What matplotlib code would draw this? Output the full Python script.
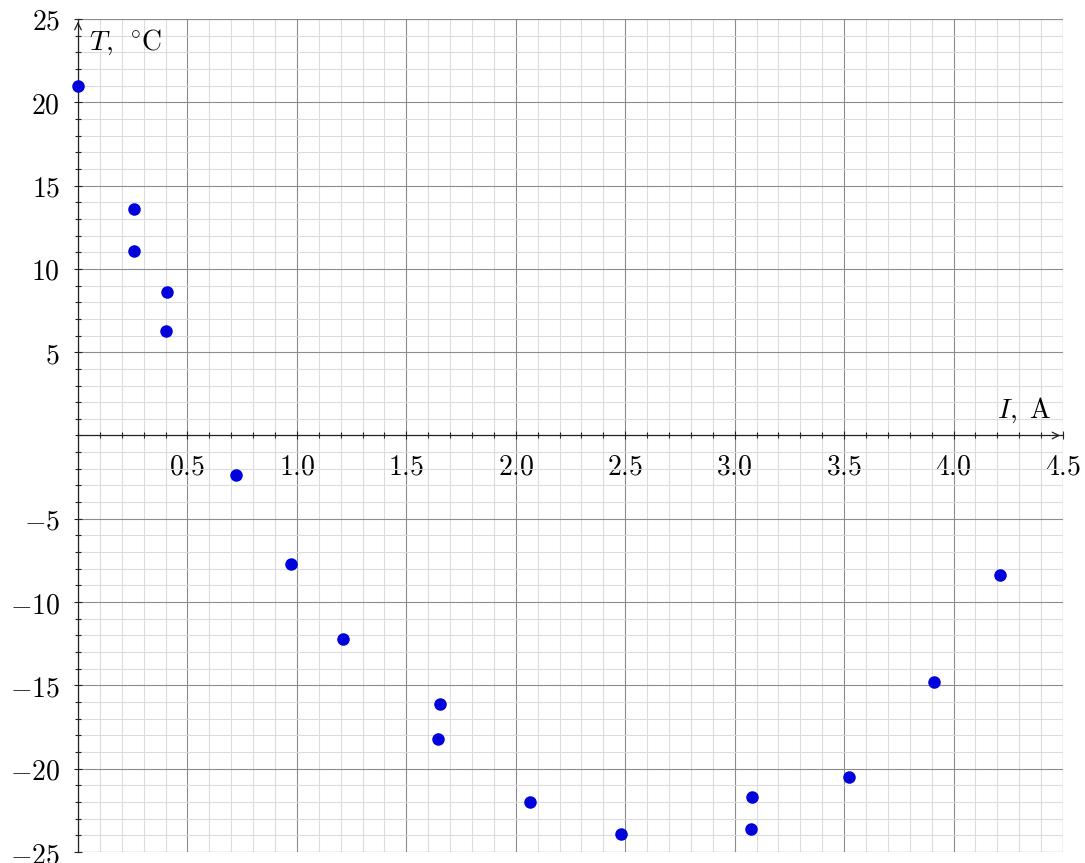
import numpy as np
import matplotlib.pyplot as plt
from matplotlib.ticker import MultipleLocator, FixedLocator

plt.rcParams['mathtext.fontset'] = 'cm'

# measured current I (A) and temperature T (deg C)
current = [0.00, 0.256, 0.256, 0.407, 0.402, 0.722, 0.973, 1.211, 1.654, 1.645,
           2.065, 2.481, 3.079, 3.074, 3.522, 3.910, 4.212]
temperature = [21.0, 13.6, 11.1, 8.6, 6.3, -2.4, -7.7, -12.2, -16.1, -18.2,
               -22.0, -23.9, -21.7, -23.6, -20.5, -14.8, -8.4]

x_ticks = [0.5, 1.0, 1.5, 2.0, 2.5, 3.0, 3.5, 4.0, 4.5]
y_ticks = [-25, -20, -15, -10, -5, 5, 10, 15, 20, 25]

fig = plt.figure(figsize=(10.85, 8.63), dpi=100)
ax = fig.add_axes([78 / 1085, 11 / 863, 985 / 1085, 833 / 863])

ax.set_xlim(0, 4.5)
ax.set_ylim(-25, 25)

# grid: major every 0.5 / 5, minor every 0.1 / 1
ax.set_xticks(x_ticks)
ax.set_yticks(y_ticks)
ax.xaxis.set_minor_locator(MultipleLocator(0.1))
ax.yaxis.set_minor_locator(MultipleLocator(1))
ax.grid(which='minor', color='#dcdcdc', linewidth=0.8)
ax.grid(which='major', color='#8c8c8c', linewidth=0.8)
ax.set_axisbelow(True)

# extra grid lines on the outer frame
for xv in [0, 4.5]:
    ax.axvline(xv, color='#8c8c8c', linewidth=0.8, zorder=0.5)
for yv in [-25, 25]:
    ax.axhline(yv, color='#8c8c8c', linewidth=0.8, zorder=0.5)

# axes through the origin
ax.spines['left'].set_position(('data', 0))
ax.spines['bottom'].set_position(('data', 0))
ax.spines['top'].set_visible(False)
ax.spines['right'].set_visible(False)
for s in ['left', 'bottom']:
    ax.spines[s].set_linewidth(0.9)
    ax.spines[s].set_color('#222222')

ax.tick_params(which='both', direction='inout', color='#222222', width=0.8)
ax.tick_params(which='major', length=6)
ax.tick_params(which='minor', length=5)
ax.tick_params(axis='x', which='major', pad=9, labelsize=20)
ax.tick_params(axis='y', which='major', pad=10, labelsize=20)

ax.set_xticklabels(['$%.1f$' % v for v in x_ticks])
ax.set_yticklabels(['$%d$' % v for v in y_ticks])

# arrows at the ends of the axes
ax.annotate('', xy=(4.5, 0), xytext=(4.45, 0),
            arrowprops=dict(arrowstyle='->', color='#222222', lw=0.9, mutation_scale=12),
            annotation_clip=False)
ax.annotate('', xy=(0, 25), xytext=(0, 24.5),
            arrowprops=dict(arrowstyle='->', color='#222222', lw=0.9, mutation_scale=12),
            annotation_clip=False)

ax.text(0.05, 23.6, r'$T,\ ^\circ\!\mathrm{C}$', fontsize=20, va='center', ha='left')
ax.text(4.45, 1.5, r'$I,\ \mathrm{A}$', fontsize=20, va='center', ha='right')

ax.plot(current, temperature, 'o', color='#0000dd', markersize=8, zorder=5,
        clip_on=False)

fig.savefig('out.png', dpi=100)
